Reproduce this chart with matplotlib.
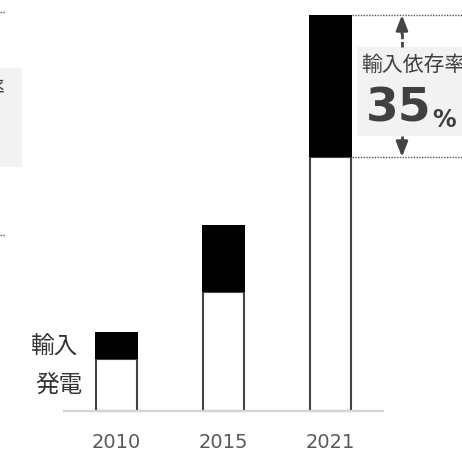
import matplotlib.pyplot as plt
from matplotlib.patches import Rectangle

plt.rcParams['font.family'] = ['Noto Sans CJK JP', 'DejaVu Sans']

years = ['2010', '2015', '2021']
generation = [52, 119, 254]
imports = [27, 67, 142]
series_labels = ['発電', '輸入']
share_title = '輸入依存率'
share_value = '35'

fig = plt.figure(figsize=(4.62, 4.52), dpi=100)
ax = fig.add_axes([0, 0, 1, 1])
ax.set_xlim(-1.089, 3.229)
ax.set_ylim(-40, 412)
ax.axis('off')

x = list(range(len(years)))
totals = [g + i for g, i in zip(generation, imports)]

ax.bar(x, generation, width=0.392, color='white', edgecolor='#444444',
       linewidth=1.5, zorder=2)
ax.bar(x, imports, bottom=generation, width=0.402, color='black', zorder=2)

# baseline
ax.plot([-0.5, 2.5], [0, 0], color='#d4d4d4', lw=1.6, zorder=3,
        solid_capstyle='butt')

for xi, yr in zip(x, years):
    ax.text(xi, -36, yr, ha='center', va='baseline', fontsize=14,
            color='#595959', family='DejaVu Sans')

# series labels beside the first bar
ax.text(-0.322, generation[0] / 2, series_labels[0], ha='right', va='center',
        fontsize=17, color='#333333')
ax.text(-0.369, generation[0] + imports[0] / 2, series_labels[1], ha='right',
        va='center', fontsize=17, color='#333333')

# import dependency callout on the last bar
last = x[-1]
ax.plot([last + 0.2, 3.3], [totals[-1]] * 2, ls=(0, (1, 1)), color='#555555',
        lw=1, zorder=1)
ax.plot([last + 0.2, 3.3], [generation[-1]] * 2, ls=(0, (1, 1)),
        color='#555555', lw=1, zorder=1)

box_bottom, box_top = 275, 364
ax.add_patch(Rectangle((2.248, box_bottom), 1.2, box_top - box_bottom,
                       facecolor='#f2f2f2', edgecolor='none', zorder=1))

ax_x = 2.668
ax.plot([ax_x, ax_x], [box_top, totals[-1] - 18], color='#444444', lw=2,
        ls=(0, (2, 1)), zorder=3)
ax.annotate('', xy=(ax_x, totals[-1]), xytext=(ax_x, totals[-1] - 19),
            arrowprops=dict(arrowstyle='-|>,head_length=0.9,head_width=0.35',
                            color='#444444', lw=2, shrinkA=0, shrinkB=0),
            zorder=3)
ax.plot([ax_x, ax_x], [box_bottom, generation[-1] + 14], color='#444444',
        lw=2, ls=(0, (2, 1)), zorder=3)
ax.annotate('', xy=(ax_x, generation[-1]), xytext=(ax_x, generation[-1] + 15),
            arrowprops=dict(arrowstyle='-|>,head_length=0.9,head_width=0.35',
                            color='#444444', lw=2, shrinkA=0, shrinkB=0),
            zorder=3)

ax.text(2.285, 347, share_title, ha='left', va='center', fontsize=15,
        color='#404040')
t = ax.text(2.335, 290, share_value, ha='left', va='baseline', fontsize=34,
            fontweight='bold', color='#404040', family='DejaVu Sans')
fig.canvas.draw()
bb = t.get_window_extent()
ax.annotate('%', xy=(bb.x1, bb.y0), xycoords='figure pixels',
            xytext=(0, 0), textcoords='offset points', ha='left',
            va='bottom', fontsize=17, fontweight='bold', color='#404040',
            family='DejaVu Sans')

# edge of the neighbouring panel
fig.add_artist(Rectangle((0, 1 - 168 / 452), 22 / 462, 99 / 452,
                         transform=fig.transFigure, facecolor='#f2f2f2',
                         edgecolor='none'))
fig.text(5 / 462, 1 - 89 / 452, '率', ha='right', va='center', fontsize=15,
         color='#404040')
for yp in (13, 236):
    fig.add_artist(plt.Line2D([0, 5 / 462], [1 - yp / 452] * 2,
                              transform=fig.transFigure, ls=(0, (1, 1)),
                              color='#555555', lw=1))

fig.savefig('out.png', dpi=100)
